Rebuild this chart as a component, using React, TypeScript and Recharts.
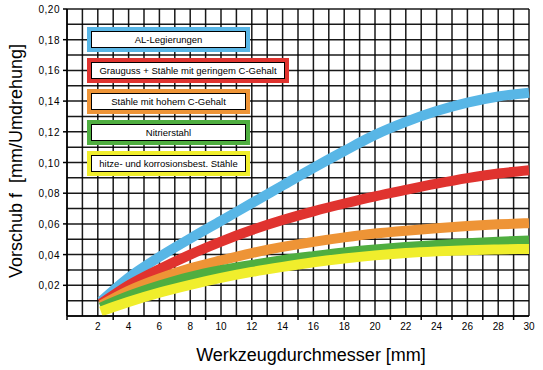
import { LineChart, Line, XAxis, YAxis, CartesianGrid } from "recharts";

// Werkzeugdurchmesser [mm]
const xs = [2.2, 4, 6, 8, 10, 12, 14, 16, 18, 20, 22, 24, 26, 28, 30];

// Vorschub f [mm/Umdrehung]
const alLegierungen = [0.0095, 0.025, 0.0385, 0.0505, 0.062, 0.0735, 0.085, 0.0965, 0.1075, 0.118, 0.1265, 0.1335, 0.139, 0.143, 0.1455];
const grauguss = [0.008, 0.02, 0.0305, 0.0400, 0.0485, 0.0560, 0.0625, 0.0682, 0.0733, 0.078, 0.0822, 0.0862, 0.0898, 0.0928, 0.095];
const hoherC = [0.007, 0.0165, 0.0245, 0.031, 0.0362, 0.041, 0.045, 0.0483, 0.0512, 0.0537, 0.0556, 0.0572, 0.0586, 0.0597, 0.0605];
const nitrierstahl = [0.0055, 0.013, 0.0198, 0.0255, 0.0298, 0.0333, 0.0364, 0.039, 0.0414, 0.0433, 0.0449, 0.0462, 0.0474, 0.0484, 0.0492];
const hitzebest = [0.003, 0.0092, 0.0152, 0.0203, 0.0248, 0.0287, 0.032, 0.035, 0.0375, 0.0395, 0.041, 0.0421, 0.0429, 0.0434, 0.0437];

const seriesNames = [
  "AL-Legierungen",
  "Grauguss + Stähle mit geringem C-Gehalt",
  "Stähle mit hohem C-Gehalt",
  "Nitrierstahl",
  "hitze- und korrosionsbest. Stähle",
];
const seriesKeys = ["al", "grau", "hoch", "nitr", "hitze"];
const seriesColors = ["#58b6e6", "#e0332f", "#ee9436", "#4fae40", "#f0ee2c"];
const seriesValues = [alLegierungen, grauguss, hoherC, nitrierstahl, hitzebest];

const xLabels = [2, 4, 6, 8, 10, 12, 14, 16, 18, 20, 22, 24, 26, 28, 30];
const xTickMarks = [0, 3, 7, 9, 12, 15, 18, 21, 23, 25, 27, 29];
const yLabels = [0.02, 0.04, 0.06, 0.08, 0.1, 0.12, 0.14, 0.16, 0.18, 0.2];

// grid every 1 mm and every 0,01
const xGrid = Array.from({ length: 31 }, (_, i) => i);
const yGrid = Array.from({ length: 21 }, (_, i) => i / 100);

const data = xs.map((x, i) => {
  const row: any = { x };
  seriesKeys.forEach((k, j) => (row[k] = seriesValues[j][i]));
  return row;
});

const FONT = '"Liberation Sans", Arial, sans-serif';
const near = (list: number[], v: number) => list.some((l) => Math.abs(l - v) < 1e-6);

const XTick = (props: any) => {
  const { x, y, payload } = props;
  const v = payload.value;
  return (
    <g>
      {near(xTickMarks, v) && <line x1={x} x2={x} y1={y - 6} y2={y - 2} stroke="#000" strokeWidth={1.5} />}
      {near(xLabels, v) && (
        <text x={x} y={y} dy={8} textAnchor="middle" fontSize={10} fontFamily={FONT} fill="#000">
          {v}
        </text>
      )}
    </g>
  );
};

const YTick = (props: any) => {
  const { x, y, payload } = props;
  const v = payload.value;
  if (!near(yLabels, v)) return <g />;
  return (
    <g>
      <line x1={x + 3} x2={x + 7} y1={y} y2={y} stroke="#000" strokeWidth={1.5} />
      <text x={x} y={y} dy={4} textAnchor="end" fontSize={10} fontFamily={FONT} fill="#000" letterSpacing={0.5}>
        {v.toFixed(2).replace(".", ",")}
      </text>
    </g>
  );
};

const legendTops = [27, 58, 89, 120, 151];
const legendWidths = [163, 202, 163, 163, 163];

export default function App() {
  return (
    <div style={{ position: "absolute", left: 0, top: 0, width: 543, height: 370, background: "#fff", fontFamily: FONT }}>
      <LineChart width={543} height={370} data={data} margin={{ top: 9, right: 14, bottom: 0, left: 0 }}>
        <XAxis
          dataKey="x"
          type="number"
          domain={[0, 30]}
          ticks={xGrid}
          interval={0}
          height={54}
          tickSize={0}
          tickMargin={6}
          tickLine={false}
          axisLine={{ stroke: "#000", strokeWidth: 1.5 }}
          tick={<XTick />}
        />
        <YAxis
          type="number"
          domain={[0, 0.2]}
          ticks={yGrid}
          interval={0}
          width={67}
          tickSize={4}
          tickMargin={3}
          tickLine={false}
          axisLine={{ stroke: "#000", strokeWidth: 1.5 }}
          tick={<YTick />}
        />
        {seriesKeys.map((k, i) => (
          <Line
            key={k}
            dataKey={k}
            type="monotone"
            stroke={seriesColors[i]}
            strokeWidth={10}
            dot={false}
            activeDot={false}
            isAnimationActive={false}
          />
        ))}
        <CartesianGrid stroke="#000" strokeWidth={1.5} strokeOpacity={0.9} />
      </LineChart>

      {seriesNames.map((name, i) => (
        <div
          key={name}
          style={{
            position: "absolute",
            left: 87,
            top: legendTops[i],
            width: legendWidths[i],
            height: 25,
            boxSizing: "border-box",
            border: `4px solid ${seriesColors[i]}`,
            background: seriesColors[i],
          }}
        >
          <div
            style={{
              boxSizing: "border-box",
              width: "100%",
              height: "100%",
              background: "#fff",
              border: "1px solid #000",
              fontSize: 9.5,
              lineHeight: "15px",
              textAlign: "center",
              whiteSpace: "nowrap",
              color: "#000",
            }}
          >
            {name}
          </div>
        </div>
      ))}

      <div
        style={{
          position: "absolute",
          left: 311,
          top: 345,
          transform: "translateX(-50%)",
          fontSize: 18,
          whiteSpace: "nowrap",
          color: "#000",
        }}
      >
        Werkzeugdurchmesser [mm]
      </div>
      <div
        style={{
          position: "absolute",
          left: 16,
          top: 161,
          transform: "translate(-50%, -50%) rotate(-90deg)",
          fontSize: 18,
          whiteSpace: "pre",
          color: "#000",
        }}
      >
        {"Vorschub f  [mm/Umdrehung]"}
      </div>
    </div>
  );
}
